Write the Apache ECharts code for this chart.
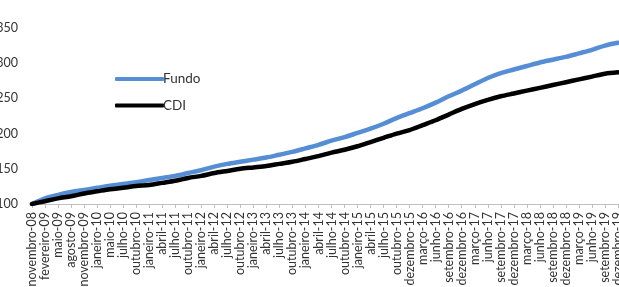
<!DOCTYPE html>
<html>
<head>
<meta charset="utf-8">
<script src="https://cdn.jsdelivr.net/npm/echarts@6/dist/echarts.min.js"></script>
<style>
  html, body { margin: 0; padding: 0; background: #fff; }
  #chart { width: 619px; height: 287px; }
</style>
</head>
<body>
<div id="chart"></div>
<script>
var categories = ['novembro-08', 'fevereiro-09', 'maio-09', 'agosto-09', 'novembro-09', 'janeiro-10',
    'maio-10', 'julho-10', 'outubro-10', 'janeiro-11', 'abril-11', 'julho-11', 'outubro-11',
    'janeiro-12', 'abril-12', 'julho-12', 'outubro-12', 'janeiro-13', 'abril-13', 'julho-13',
    'outubro-13', 'janeiro-14', 'abril-14', 'julho-14', 'outubro-14', 'janeiro-15', 'abril-15',
    'julho-15', 'outubro-15', 'dezembro-15', 'março-16', 'junho-16', 'setembro-16', 'dezembro-16',
    'março-17', 'junho-17', 'setembro-17', 'dezembro-17', 'março-18', 'junho-18', 'setembro-18',
    'dezembro-18', 'março-19', 'junho-19', 'setembro-19', 'dezembro-19'];

var fundo = [100, 108, 113, 117, 120, 123, 126, 128.5, 131, 134, 137, 140, 144, 148, 153, 157,
    160, 163, 166, 170, 174, 179, 184, 190, 195, 201, 207, 214, 222, 229, 236, 244, 253, 261,
    270, 279, 286, 291, 296, 301, 305, 309, 314, 319, 325, 329];

var cdi = [100, 104, 108, 111, 115, 118, 121, 123, 125.5, 127, 130, 133, 137, 140, 144, 147,
    150, 152, 154, 157, 160, 164, 168, 173, 177, 182, 188, 194, 200, 205, 212, 219, 227, 235,
    242, 248, 253, 257, 261, 265, 269, 273, 277, 281, 285, 287];

var yTicks = { min: 100, max: 350, step: 50 };

var font = 'Lato, "Open Sans", sans-serif';
var chart = echarts.init(document.getElementById('chart'), null, { renderer: 'canvas' });

var option = {
    animation: false,
    grid: {
        left: 32,
        right: 1,
        top: 28,
        bottom: 83,
        outerBoundsMode: 'none'   // the picture is cropped, labels run off the edges
    },
    legend: {
        orient: 'vertical',
        left: 110,
        top: 67,
        itemWidth: 49,
        itemHeight: 4,
        itemGap: 12.5,
        icon: 'roundRect',
        textStyle: { fontFamily: font, fontSize: 13.5, color: '#333', padding: [0, 0, 0, -6] },
        data: ['Fundo', 'CDI']
    },
    xAxis: {
        type: 'category',
        data: categories,
        boundaryGap: false,
        axisLine: { lineStyle: { color: '#bfbfbf', width: 1 } },
        axisTick: { show: true, length: 4, lineStyle: { color: '#bfbfbf' } },
        axisLabel: {
            interval: 0,
            rotate: 90,
            margin: 8,
            hideOverlap: false,
            fontFamily: font,
            fontSize: 12.5,
            color: '#333'
        }
    },
    yAxis: {
        type: 'value',
        min: yTicks.min,
        max: yTicks.max,
        interval: yTicks.step,
        axisLine: { show: false },
        axisTick: { show: false },
        splitLine: { show: false },
        axisLabel: {
            margin: 14,
            fontFamily: font,
            fontSize: 12.5,
            color: '#333'
        }
    },
    series: [
        {
            name: 'Fundo',
            type: 'line',
            data: fundo,
            showSymbol: false,
            smooth: 0.3,
            itemStyle: { color: '#558ED5' },
            lineStyle: { color: '#558ED5', width: 4.5, cap: 'round' },
            z: 2
        },
        {
            name: 'CDI',
            type: 'line',
            data: cdi,
            showSymbol: false,
            smooth: 0.3,
            itemStyle: { color: '#000' },
            lineStyle: { color: '#000', width: 4.5, cap: 'round' },
            z: 3
        }
    ]
};

chart.setOption(option);
</script>
</body>
</html>
